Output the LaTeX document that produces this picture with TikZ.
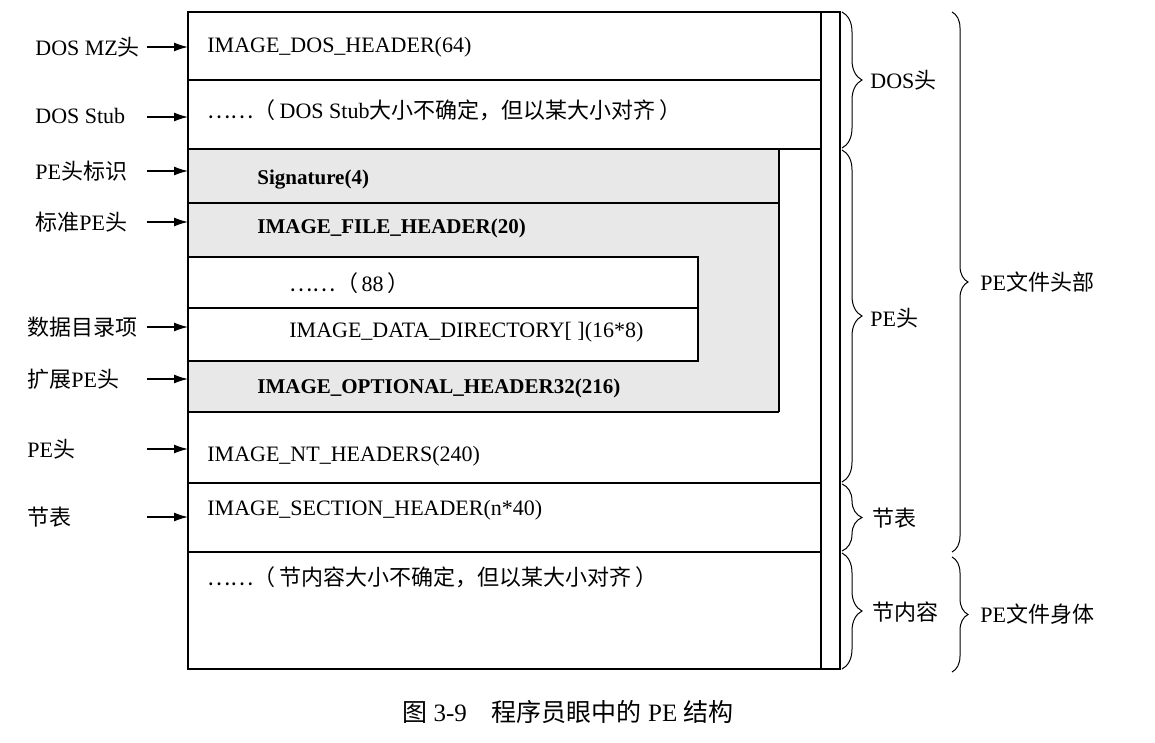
\documentclass[tikz,border=0pt]{standalone}
\usepackage{fontspec}
\setmainfont{Liberation Serif}
\newfontfamily\zh{Noto Sans CJK SC}
\usetikzlibrary{arrows.meta,decorations.pathreplacing}
\tikzset{
  frame/.style   = {line width=0.6pt},
  pefill/.style  = {fill=black!9},
  txt/.style     = {anchor=west, inner sep=0pt, font=\fontsize{11}{13}\selectfont},
  btxt/.style    = {anchor=west, inner sep=0pt, font=\fontsize{10.5}{13}\selectfont\bfseries},
  lbl/.style     = {anchor=west, inner sep=0pt, font=\fontsize{11}{13}\selectfont},
  ptr/.style     = {line width=0.7pt, -{Latex[length=7pt,width=4.5pt]}},
  brc/.style     = {line width=0.5pt, decorate, decoration={brace, amplitude=10pt}},
  bigbrc/.style  = {line width=0.5pt, decorate, decoration={brace, amplitude=8pt}},
}

\begin{document}
\begin{tikzpicture}[x=0.5pt, y=-0.5pt]
  \useasboundingbox (0,0) rectangle (1155,743);
  \coordinate (nw) at (188,12);
  \coordinate (se) at (840,669);
  % PE header block
  \fill[pefill] (188,149) rectangle (779,412);
  \fill[white] (188,257) rectangle (698,361);
  \draw[frame] (nw) rectangle (se);
  \draw[frame] (821,12) -- (821,669);
  \draw[frame] (188,80) -- (821,80);
  \draw[frame] (188,149) -- (821,149);
  \draw[frame] (779,149) -- (779,412);
  \draw[frame] (188,203) -- (779,203);
  \draw[frame] (188,257) rectangle (698,361);
  \draw[frame] (188,308) -- (698,308);
  \draw[frame] (188,412) -- (779,412);
  \draw[frame] (188,483) -- (821,483);
  \draw[frame] (188,552) -- (821,552);

  % texts in the rows
  \node[txt] (dosh) at (207,47) {IMAGE\_DOS\_HEADER(64)};
  \node[txt] (stub) at (207,110) {{\zh ……（}\,DOS Stub{\zh 大小不确定，但以某大小对齐}\,{\zh ）}};
  \node[btxt] (sig) at (257,180) {Signature(4)};
  \node[btxt] (fileh) at (257,228) {IMAGE\_FILE\_HEADER(20)};
  \node[txt] (rest) at (289,283) {{\zh ……（}\,88\,{\zh ）}};
  \node[txt] (ddir) at (289,332) {IMAGE\_DATA\_DIRECTORY[ ](16*8)};
  \node[btxt] (opth) at (257,388) {IMAGE\_OPTIONAL\_HEADER32(216)};
  \node[txt] (nth) at (207,456) {IMAGE\_NT\_HEADERS(240)};
  \node[txt] (sech) at (207,510) {IMAGE\_SECTION\_HEADER(n*40)};
  \node[txt] (secc) at (207,577) {{\zh ……（}\,{\zh 节内容大小不确定，但以某大小对齐}\,{\zh ）}};

  % names on the left
  \node[lbl] (mz) at (35,47) {DOS MZ{\zh 头}};
  \node[lbl] (dstub) at (35,116) {DOS Stub};
  \node[lbl] (pesig) at (35,171) {PE{\zh 头标识}};
  \node[lbl] (stdpe) at (35,222) {{\zh 标准}PE{\zh 头}};
  \node[lbl] (dirs) at (27,327) {\zh 数据目录项};
  \node[lbl] (optpe) at (27,379) {{\zh 扩展}PE{\zh 头}};
  \node[lbl] (nthd) at (27,449) {PE{\zh 头}};
  \node[lbl] (stab) at (27,517) {\zh 节表};
  \coordinate (tmz) at (147,47);
  \coordinate (tstub) at (147,117);
  \coordinate (tsig) at (147,171);
  \coordinate (tstd) at (147,222);
  \coordinate (tdir) at (147,327);
  \coordinate (topt) at (147,379);
  \coordinate (tnt) at (147,449);
  \coordinate (tsec) at (147,517);
  \draw[ptr] (tmz) -- (tmz -| nw);
  \draw[ptr] (tstub) -- (tstub -| nw);
  \draw[ptr] (tsig) -- (tsig -| nw);
  \draw[ptr] (tstd) -- (tstd -| nw);
  \draw[ptr] (tdir) -- (tdir -| nw);
  \draw[ptr] (topt) -- (topt -| nw);
  \draw[ptr] (tnt) -- (tnt -| nw);
  \draw[ptr] (tsec) -- (tsec -| nw);

  % braces on the right
  \draw[brc] (842,12) -- (842,148);
  \draw[brc] (842,150) -- (842,482);
  \draw[brc] (842,484) -- (842,551);
  \draw[brc] (842,553) -- (842,669);
  \node[lbl] (doshd) at (870,80) {DOS{\zh 头}};
  \node[lbl] (pehd) at (870,318) {PE{\zh 头}};
  \node[lbl] (sectab) at (872,518) {\zh 节表};
  \node[lbl] (secbody) at (872,612) {\zh 节内容};
  \draw[bigbrc] (952,12) -- (952,552);
  \draw[bigbrc] (952,557) -- (952,672);
  \node[lbl] (filehd) at (980,282) {PE{\zh 文件头部}};
  \node[lbl] (filebd) at (980,614) {PE{\zh 文件身体}};

  \node[font=\fontsize{12.5}{15}\selectfont] (cap) at (568,712)
    {{\zh 图} 3-9\quad{\zh 程序员眼中的} PE {\zh 结构}};
\end{tikzpicture}
\end{document}
